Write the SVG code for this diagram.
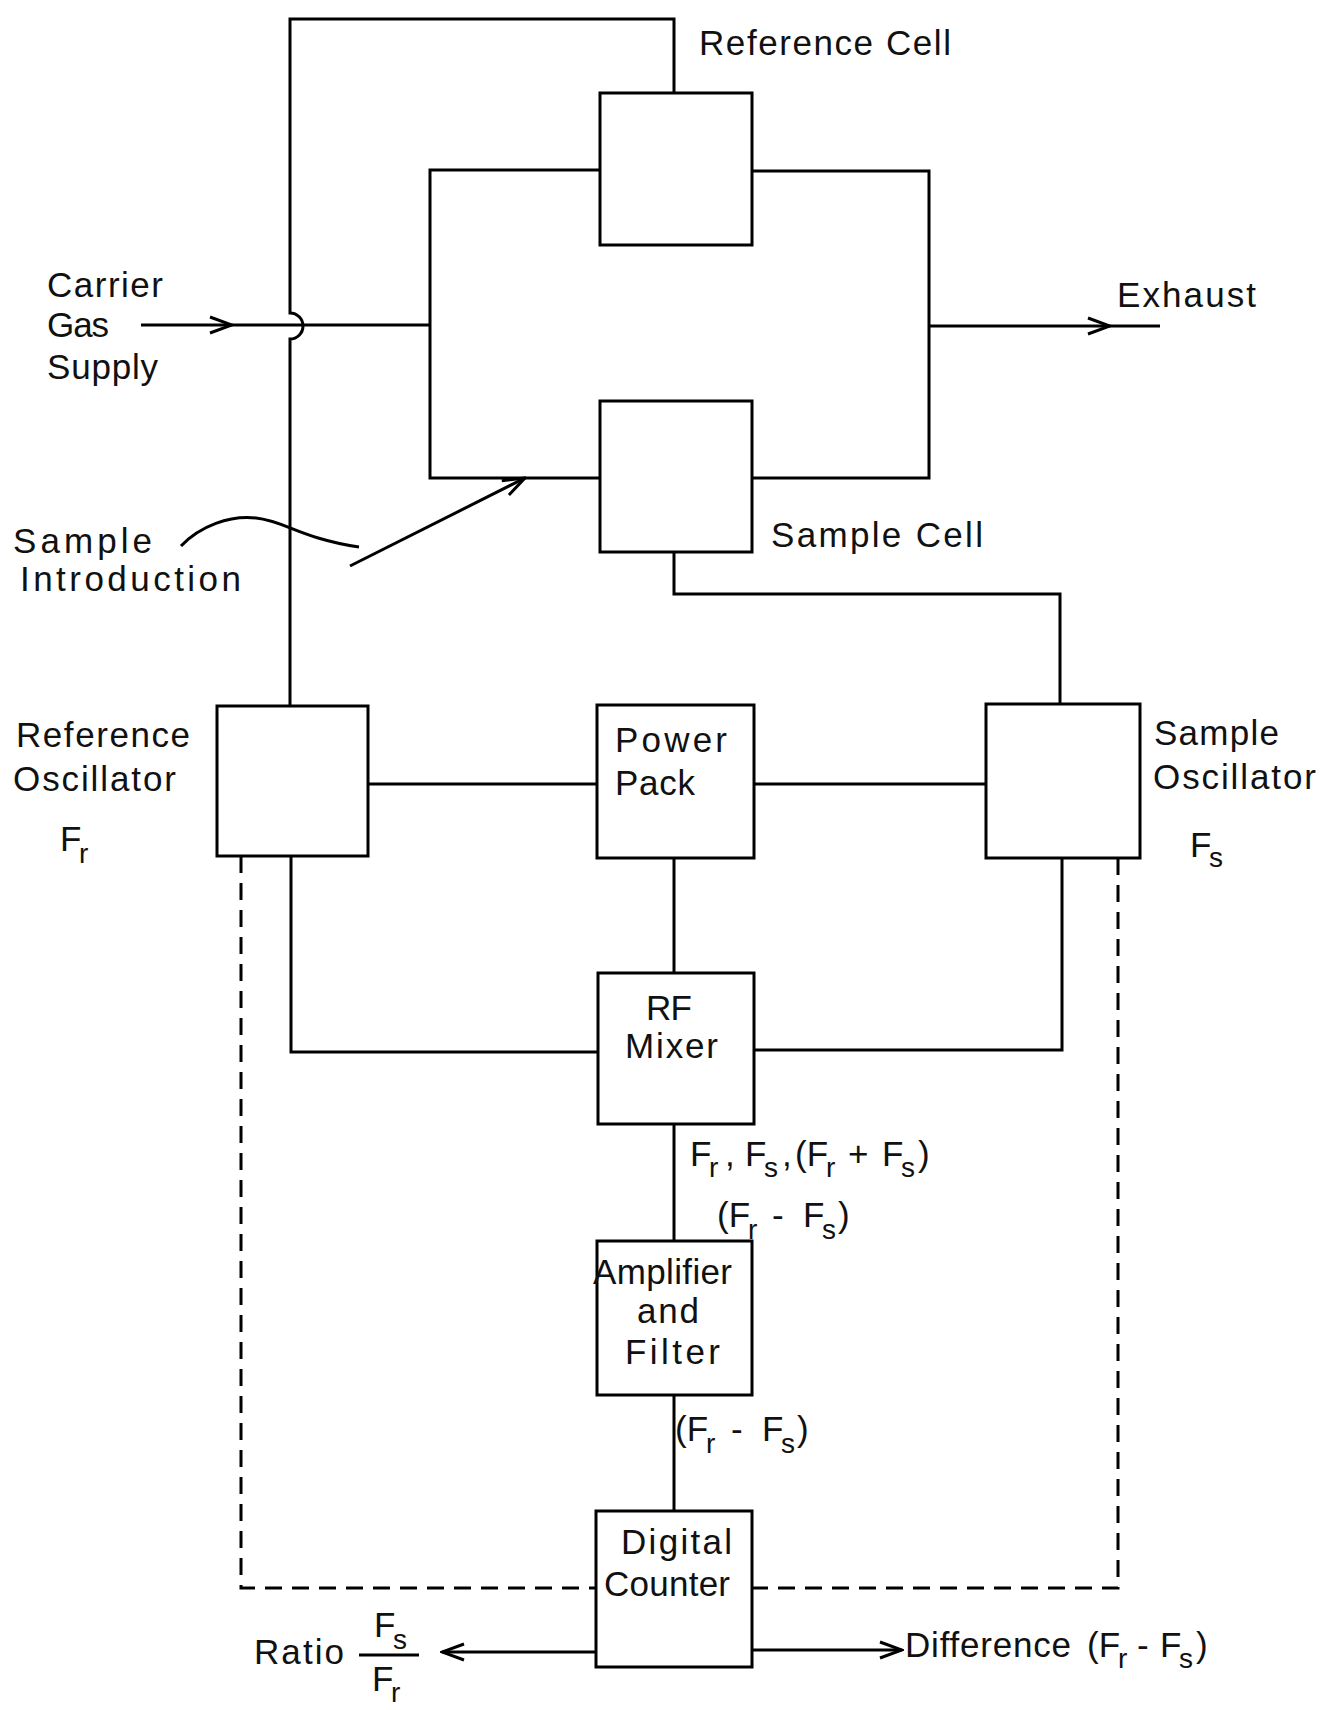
<svg xmlns="http://www.w3.org/2000/svg" width="1324" height="1710" viewBox="0 0 1324 1710">
<style>
.box{fill:#fff;stroke:#000;stroke-width:3}
.ln{fill:none;stroke:#000;stroke-width:3}
.dash{fill:none;stroke:#000;stroke-width:3;stroke-dasharray:17 10}
text{font-family:"Liberation Sans",Arial,sans-serif;font-size:35px;fill:#111}
.sub{font-size:28px}
</style>
<defs>
<marker id="arr" viewBox="0 0 26 20" refX="24" refY="10" markerWidth="26" markerHeight="20" markerUnits="userSpaceOnUse" orient="auto">
<path d="M2 2 L24 10 L2 18" fill="none" stroke="#000" stroke-width="3"/>
</marker>
</defs>
<rect width="1324" height="1710" fill="#fff"/>

<g id="connectors">
<path class="ln" d="M674 93 V19 H290 V313 A13 13 0 0 1 290 339 V706"/>
<path class="ln" d="M141 325 H232" marker-end="url(#arr)"/>
<path class="ln" d="M232 325 H430"/>
<path class="ln" d="M600 170 H430 V478 H600"/>
<path class="ln" d="M752 171 H929 V478 H752"/>
<path class="ln" d="M929 326 H1110" marker-end="url(#arr)"/>
<path class="ln" d="M1110 326 H1160"/>
<path class="ln" d="M350 566 L525 478" marker-end="url(#arr)"/>
<path class="ln" d="M181 546 C200 526 230 515 256 518 C285 521 300 538 359 547"/>
<path class="ln" d="M674 552 V594 H1060 V704"/>
<path class="ln" d="M368 784 H597"/>
<path class="ln" d="M754 784 H986"/>
<path class="ln" d="M674 858 V973"/>
<path class="ln" d="M291 856 V1052 H598"/>
<path class="ln" d="M1062 858 V1050 H754"/>
<path class="ln" d="M674 1124 V1241"/>
<path class="ln" d="M674 1395 V1511"/>
<path class="dash" d="M241 856 V1588 H596"/>
<path class="dash" d="M1118 858 V1588 H752"/>
<path class="ln" d="M596 1652 H442" marker-end="url(#arr)"/>
<path class="ln" d="M752 1650 H902" marker-end="url(#arr)"/>
</g>

<g id="reference-cell">
<rect class="box" x="600" y="93" width="152" height="152"/>
<text x="699" y="55" textLength="252" lengthAdjust="spacing">Reference Cell</text>
</g>
<g id="sample-cell">
<rect class="box" x="600" y="401" width="152" height="151"/>
<text x="771" y="547" textLength="212" lengthAdjust="spacing">Sample Cell</text>
</g>
<g id="reference-oscillator">
<rect class="box" x="217" y="706" width="151" height="150"/>
<text x="16" y="747" textLength="174" lengthAdjust="spacing">Reference</text>
<text x="13" y="791" textLength="163" lengthAdjust="spacing">Oscillator</text>
<text x="60" y="851">F<tspan class="sub" x="79" y="863">r</tspan></text>
</g>
<g id="power-pack">
<rect class="box" x="597" y="705" width="157" height="153"/>
<text x="615" y="752" textLength="112" lengthAdjust="spacing">Power</text>
<text x="615" y="795" textLength="80" lengthAdjust="spacing">Pack</text>
</g>
<g id="sample-oscillator">
<rect class="box" x="986" y="704" width="154" height="154"/>
<text x="1154" y="745" textLength="125" lengthAdjust="spacing">Sample</text>
<text x="1153" y="789" textLength="163" lengthAdjust="spacing">Oscillator</text>
<text x="1190" y="857">F<tspan class="sub" x="1209" y="867">s</tspan></text>
</g>
<g id="rf-mixer">
<rect class="box" x="598" y="973" width="156" height="151"/>
<text x="646" y="1020" textLength="46" lengthAdjust="spacing">RF</text>
<text x="625" y="1058" textLength="93" lengthAdjust="spacing">Mixer</text>
</g>
<g id="amplifier-filter">
<rect class="box" x="597" y="1241" width="155" height="154"/>
<text x="593" y="1284" textLength="139" lengthAdjust="spacing">Amplifier</text>
<text x="637" y="1323" textLength="62" lengthAdjust="spacing">and</text>
<text x="625" y="1364" textLength="95" lengthAdjust="spacing">Filter</text>
</g>
<g id="digital-counter">
<rect class="box" x="596" y="1511" width="156" height="156"/>
<text x="621" y="1554" textLength="111" lengthAdjust="spacing">Digital</text>
<text x="604" y="1596" textLength="126" lengthAdjust="spacing">Counter</text>
</g>

<g id="labels">
<text x="47" y="297" textLength="116" lengthAdjust="spacing">Carrier</text>
<text x="47" y="337" textLength="62" lengthAdjust="spacing">Gas</text>
<text x="47" y="379" textLength="111" lengthAdjust="spacing">Supply</text>
<text x="1117" y="307" textLength="139" lengthAdjust="spacing">Exhaust</text>
<text x="13" y="553" textLength="139" lengthAdjust="spacing">Sample</text>
<text x="20" y="591" textLength="221" lengthAdjust="spacing">Introduction</text>
<text x="690" y="1166">F<tspan class="sub" x="709" y="1177">r</tspan><tspan x="725" y="1166">,</tspan><tspan x="745" y="1166">F</tspan><tspan class="sub" x="764" y="1177">s</tspan><tspan x="782" y="1166">,</tspan><tspan x="795" y="1166">(F</tspan><tspan class="sub" x="826" y="1177">r</tspan><tspan x="848" y="1166">+</tspan><tspan x="882" y="1166">F</tspan><tspan class="sub" x="901" y="1177">s</tspan><tspan x="918" y="1166">)</tspan></text>
<text x="717" y="1227">(F<tspan class="sub" x="748" y="1239">r</tspan><tspan x="772" y="1227">-</tspan><tspan x="803" y="1227">F</tspan><tspan class="sub" x="822" y="1239">s</tspan><tspan x="838" y="1227">)</tspan></text>
<text x="675" y="1441">(F<tspan class="sub" x="706" y="1453">r</tspan><tspan x="731" y="1441">-</tspan><tspan x="762" y="1441">F</tspan><tspan class="sub" x="781" y="1453">s</tspan><tspan x="797" y="1441">)</tspan></text>
<text x="905" y="1657" textLength="166" lengthAdjust="spacing">Difference</text>
<text x="1087" y="1657">(F<tspan class="sub" x="1118" y="1668">r</tspan><tspan x="1137" y="1657">-</tspan><tspan x="1160" y="1657">F</tspan><tspan class="sub" x="1179" y="1668">s</tspan><tspan x="1196" y="1657">)</tspan></text>
<text x="254" y="1664" textLength="90" lengthAdjust="spacing">Ratio</text>
<path class="ln" d="M359 1655 H419"/>
<text x="374" y="1637">F<tspan class="sub" x="393" y="1649">s</tspan></text>
<text x="372" y="1691">F<tspan class="sub" x="391" y="1702">r</tspan></text>
</g>
</svg>
